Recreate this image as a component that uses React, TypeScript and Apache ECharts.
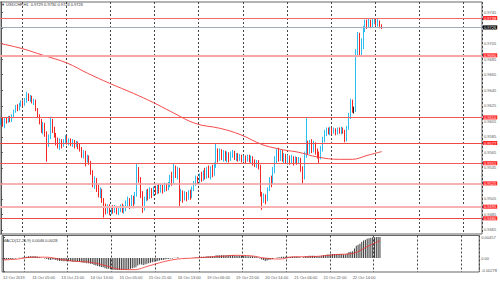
import React, { useEffect, useRef } from 'react';
import * as echarts from 'echarts';

// ---- data ----
const titleText = '▼ USDCHF,H1  0.9729 0.9730 0.9724 0.9726';
const macdText = 'MACD(12,26,9) 0.0046 0.0028';

const dateLabels = [
  '12 Oct 2019', '13 Oct 05:00', '13 Oct 21:00', '14 Oct 13:00', '15 Oct 05:00',
  '15 Oct 21:00', '16 Oct 13:00', '19 Oct 06:00', '19 Oct 22:00', '20 Oct 14:00',
  '21 Oct 06:00', '21 Oct 22:00', '22 Oct 14:00',
];

// [open, close, low, high]
const candles = [
  [0.9606,0.9609,0.9600,0.9611],[0.9609,0.9604,0.9598,0.9610],[0.9604,0.9607,0.9596,0.9609],[0.9607,0.9605,0.9602,0.9610],
  [0.9605,0.9610,0.9603,0.9612],[0.9610,0.9606,0.9604,0.9612],[0.9606,0.9612,0.9604,0.9614],[0.9612,0.9618,0.9610,0.9620],
  [0.9618,0.9624,0.9616,0.9626],[0.9624,0.9621,0.9618,0.9627],[0.9621,0.9627,0.9619,0.9629],[0.9627,0.9630,0.9624,0.9632],
  [0.9630,0.9626,0.9624,0.9632],[0.9626,0.9631,0.9625,0.9635],[0.9631,0.9639,0.9629,0.9643],[0.9639,0.9634,0.9631,0.9641],
  [0.9634,0.9636,0.9630,0.9639],[0.9636,0.9630,0.9628,0.9638],[0.9630,0.9631,0.9626,0.9634],[0.9631,0.9620,0.9618,0.9633],
  [0.9620,0.9612,0.9609,0.9622],[0.9612,0.9605,0.9601,0.9614],[0.9605,0.9596,0.9590,0.9608],[0.9596,0.9601,0.9588,0.9604],
  [0.9601,0.9590,0.9585,0.9603],[0.9590,0.9578,0.9553,0.9592],[0.9578,0.9584,0.9572,0.9588],[0.9584,0.9604,0.9582,0.9611],
  [0.9604,0.9596,0.9590,0.9608],[0.9596,0.9588,0.9584,0.9598],[0.9588,0.9580,0.9574,0.9590],[0.9580,0.9576,0.9570,0.9584],
  [0.9576,0.9580,0.9568,0.9583],[0.9580,0.9574,0.9570,0.9582],[0.9574,0.9579,0.9572,0.9582],[0.9579,0.9584,0.9576,0.9587],
  [0.9584,0.9578,0.9575,0.9586],[0.9578,0.9581,0.9574,0.9583],[0.9581,0.9576,0.9573,0.9583],[0.9576,0.9579,0.9572,0.9582],
  [0.9579,0.9575,0.9570,0.9581],[0.9575,0.9578,0.9572,0.9580],[0.9578,0.9573,0.9569,0.9579],[0.9573,0.9570,0.9566,0.9576],
  [0.9570,0.9562,0.9558,0.9572],[0.9562,0.9566,0.9557,0.9568],[0.9566,0.9556,0.9547,0.9567],[0.9556,0.9559,0.9552,0.9562],
  [0.9559,0.9552,0.9549,0.9561],[0.9552,0.9540,0.9536,0.9554],[0.9540,0.9525,0.9520,0.9542],[0.9525,0.9530,0.9518,0.9534],
  [0.9530,0.9520,0.9514,0.9532],[0.9520,0.9512,0.9507,0.9523],[0.9512,0.9516,0.9506,0.9520],[0.9516,0.9504,0.9500,0.9518],
  [0.9504,0.9496,0.9481,0.9506],[0.9496,0.9490,0.9485,0.9499],[0.9490,0.9495,0.9486,0.9498],[0.9495,0.9488,0.9484,0.9498],
  [0.9488,0.9493,0.9485,0.9496],[0.9493,0.9490,0.9486,0.9497],[0.9490,0.9494,0.9487,0.9497],[0.9494,0.9489,0.9485,0.9496],
  [0.9489,0.9492,0.9484,0.9495],[0.9492,0.9495,0.9488,0.9498],[0.9495,0.9490,0.9487,0.9499],[0.9490,0.9493,0.9486,0.9497],
  [0.9493,0.9497,0.9489,0.9503],[0.9497,0.9503,0.9494,0.9508],[0.9503,0.9498,0.9492,0.9506],[0.9498,0.9506,0.9495,0.9510],
  [0.9506,0.9500,0.9493,0.9509],[0.9500,0.9510,0.9498,0.9514],[0.9510,0.9544,0.9508,0.9551],[0.9544,0.9530,0.9526,0.9546],
  [0.9530,0.9512,0.9506,0.9533],[0.9512,0.9494,0.9487,0.9515],[0.9494,0.9505,0.9490,0.9508],[0.9505,0.9514,0.9502,0.9517],
  [0.9514,0.9508,0.9503,0.9518],[0.9508,0.9516,0.9505,0.9520],[0.9516,0.9512,0.9506,0.9519],[0.9512,0.9518,0.9509,0.9521],
  [0.9518,0.9514,0.9510,0.9522],[0.9514,0.9520,0.9511,0.9523],[0.9520,0.9516,0.9512,0.9524],[0.9516,0.9521,0.9513,0.9524],
  [0.9521,0.9517,0.9512,0.9523],[0.9517,0.9522,0.9514,0.9526],[0.9522,0.9518,0.9515,0.9525],[0.9518,0.9523,0.9516,0.9527],
  [0.9523,0.9533,0.9520,0.9536],[0.9533,0.9528,0.9522,0.9540],[0.9528,0.9545,0.9525,0.9551],[0.9545,0.9538,0.9532,0.9548],
  [0.9538,0.9542,0.9530,0.9546],[0.9542,0.9508,0.9495,0.9545],[0.9508,0.9514,0.9502,0.9518],[0.9514,0.9506,0.9500,0.9516],
  [0.9506,0.9512,0.9503,0.9515],[0.9512,0.9507,0.9502,0.9514],[0.9507,0.9513,0.9504,0.9516],[0.9513,0.9509,0.9504,0.9517],
  [0.9509,0.9518,0.9506,0.9521],[0.9518,0.9525,0.9515,0.9528],[0.9525,0.9531,0.9522,0.9535],[0.9531,0.9527,0.9524,0.9534],
  [0.9527,0.9535,0.9525,0.9538],[0.9535,0.9530,0.9527,0.9540],[0.9530,0.9538,0.9528,0.9542],[0.9538,0.9534,0.9530,0.9545],
  [0.9534,0.9540,0.9531,0.9546],[0.9540,0.9536,0.9532,0.9548],[0.9536,0.9541,0.9530,0.9547],[0.9541,0.9538,0.9533,0.9549],
  [0.9538,0.9548,0.9535,0.9552],[0.9548,0.9565,0.9545,0.9576],[0.9565,0.9558,0.9552,0.9570],[0.9558,0.9566,0.9554,0.9570],
  [0.9566,0.9560,0.9555,0.9569],[0.9560,0.9565,0.9553,0.9568],[0.9565,0.9559,0.9554,0.9567],[0.9559,0.9563,0.9552,0.9566],
  [0.9563,0.9557,0.9552,0.9565],[0.9557,0.9562,0.9554,0.9566],[0.9562,0.9565,0.9558,0.9568],[0.9565,0.9559,0.9555,0.9567],
  [0.9559,0.9562,0.9554,0.9564],[0.9562,0.9557,0.9553,0.9564],[0.9557,0.9560,0.9554,0.9563],[0.9560,0.9556,0.9552,0.9562],
  [0.9556,0.9559,0.9553,0.9561],[0.9559,0.9555,0.9551,0.9561],[0.9555,0.9560,0.9553,0.9562],[0.9560,0.9556,0.9552,0.9562],
  [0.9556,0.9558,0.9550,0.9561],[0.9558,0.9553,0.9548,0.9560],[0.9553,0.9550,0.9546,0.9556],[0.9550,0.9553,0.9545,0.9555],
  [0.9553,0.9547,0.9543,0.9555],[0.9547,0.9512,0.9508,0.9549],[0.9512,0.9506,0.9491,0.9514],[0.9506,0.9509,0.9500,0.9512],
  [0.9509,0.9504,0.9498,0.9511],[0.9504,0.9518,0.9502,0.9520],[0.9518,0.9530,0.9515,0.9533],[0.9530,0.9526,0.9520,0.9535],
  [0.9526,0.9542,0.9524,0.9546],[0.9542,0.9556,0.9538,0.9560],[0.9556,0.9562,0.9550,0.9570],[0.9562,0.9558,0.9553,0.9571],
  [0.9558,0.9566,0.9554,0.9569],[0.9566,0.9557,0.9553,0.9568],[0.9557,0.9561,0.9551,0.9564],[0.9561,0.9555,0.9550,0.9563],
  [0.9555,0.9559,0.9549,0.9562],[0.9559,0.9554,0.9549,0.9561],[0.9554,0.9558,0.9551,0.9562],[0.9558,0.9553,0.9548,0.9560],
  [0.9553,0.9557,0.9550,0.9560],[0.9557,0.9552,0.9549,0.9559],[0.9552,0.9556,0.9550,0.9559],[0.9556,0.9545,0.9540,0.9558],
  [0.9545,0.9533,0.9525,0.9547],[0.9533,0.9562,0.9530,0.9566],[0.9562,0.9575,0.9558,0.9609],[0.9575,0.9566,0.9562,0.9580],
  [0.9566,0.9578,0.9563,0.9581],[0.9578,0.9570,0.9564,0.9582],[0.9570,0.9576,0.9565,0.9580],[0.9576,0.9566,0.9562,0.9578],
  [0.9566,0.9562,0.9557,0.9570],[0.9562,0.9559,0.9551,0.9566],[0.9559,0.9570,0.9556,0.9573],[0.9570,0.9582,0.9566,0.9585],
  [0.9582,0.9590,0.9578,0.9594],[0.9590,0.9594,0.9586,0.9597],[0.9594,0.9591,0.9588,0.9597],[0.9591,0.9595,0.9587,0.9598],
  [0.9595,0.9591,0.9588,0.9597],[0.9591,0.9594,0.9589,0.9597],[0.9594,0.9590,0.9587,0.9596],[0.9590,0.9594,0.9588,0.9597],
  [0.9594,0.9591,0.9589,0.9597],[0.9591,0.9595,0.9588,0.9598],[0.9595,0.9592,0.9589,0.9597],[0.9592,0.9581,0.9578,0.9594],
  [0.9581,0.9596,0.9579,0.9599],[0.9596,0.9612,0.9594,0.9616],[0.9612,0.9630,0.9608,0.9634],[0.9630,0.9620,0.9616,0.9633],
  [0.9620,0.9620,0.9615,0.9624],[0.9620,0.9694,0.9617,0.9698],[0.9694,0.9716,0.9688,0.9720],[0.9716,0.9694,0.9690,0.9719],
  [0.9694,0.9700,0.9688,0.9712],[0.9700,0.9724,0.9698,0.9728],[0.9724,0.9733,0.9720,0.9736],[0.9733,0.9728,0.9724,0.9736],
  [0.9728,0.9734,0.9726,0.9737],[0.9734,0.9729,0.9725,0.9736],[0.9729,0.9734,0.9726,0.9737],[0.9734,0.9736,0.9730,0.9738],
  [0.9736,0.9731,0.9728,0.9737],[0.9731,0.9733,0.9727,0.9737],[0.9733,0.9729,0.9725,0.9735],[0.9729,0.9726,0.9724,0.9730],
];

// moving average, read at sample bars: [bar index, price]
const maPoints = [
  [0, 0.9705], [11, 0.9699], [23, 0.9690], [36, 0.9680], [47, 0.9667], [59, 0.9654],
  [72, 0.9641], [83, 0.9629], [92, 0.9618], [106, 0.9602], [119, 0.9596], [130, 0.9588],
  [142, 0.9575], [150, 0.9570], [154, 0.9568], [162, 0.9565], [172, 0.9559], [184, 0.9556],
  [191, 0.9556], [199, 0.9561], [207, 0.9566],
];

const macdValues = [
  -0.0003,-0.0003,-0.0003,-0.0002,-0.0002,-0.0002,-0.0001,-0.0001,0.0000,0.0001,
  0.0001,0.0002,0.0002,0.0003,0.0004,0.0004,0.0004,0.0004,0.0004,0.0003,
  0.0002,0.0001,0.0000,-0.0001,-0.0002,-0.0003,-0.0004,-0.0003,-0.0003,-0.0004,
  -0.0005,-0.0006,-0.0006,-0.0007,-0.0007,-0.0007,-0.0007,-0.0007,-0.0008,-0.0008,
  -0.0008,-0.0008,-0.0008,-0.0009,-0.0010,-0.0010,-0.0011,-0.0011,-0.0012,-0.0013,
  -0.0015,-0.0016,-0.0017,-0.0018,-0.0019,-0.0020,-0.0022,-0.0023,-0.0023,-0.0024,
  -0.0025,-0.0025,-0.0026,-0.0026,-0.0026,-0.0026,-0.0026,-0.0025,-0.0025,-0.0024,
  -0.0023,-0.0022,-0.0021,-0.0020,-0.0016,-0.0014,-0.0014,-0.0015,-0.0014,-0.0012,
  -0.0011,-0.0010,-0.0009,-0.0008,-0.0007,-0.0006,-0.0005,-0.0004,-0.0004,-0.0003,
  -0.0002,-0.0002,-0.0001,-0.0001,0.0001,0.0001,0.0002,0.0000,0.0000,0.0000,
  0.0000,0.0000,0.0000,0.0000,0.0001,0.0001,0.0002,0.0002,0.0003,0.0003,
  0.0003,0.0003,0.0004,0.0004,0.0004,0.0004,0.0004,0.0006,0.0006,0.0006,
  0.0006,0.0006,0.0006,0.0006,0.0006,0.0006,0.0006,0.0006,0.0005,0.0005,
  0.0005,0.0005,0.0005,0.0005,0.0004,0.0004,0.0004,0.0004,0.0003,0.0003,
  0.0002,-0.0001,-0.0003,-0.0004,-0.0006,-0.0005,-0.0004,-0.0003,-0.0002,0.0000,
  0.0001,0.0002,0.0002,0.0003,0.0003,0.0003,0.0003,0.0003,0.0003,0.0003,
  0.0003,0.0003,0.0003,0.0002,0.0001,0.0002,0.0004,0.0004,0.0005,0.0005,
  0.0005,0.0005,0.0004,0.0004,0.0004,0.0005,0.0006,0.0007,0.0008,0.0008,
  0.0009,0.0009,0.0009,0.0009,0.0009,0.0009,0.0009,0.0008,0.0008,0.0010,
  0.0013,0.0014,0.0015,0.0021,0.0027,0.0029,0.0031,0.0035,0.0038,0.0040,
  0.0042,0.0043,0.0044,0.0045,0.0045,0.0046,0.0046,0.0046,
];

// MACD signal line, read at sample bars: [bar index, value]
const signalPoints = [
  [0, -0.0004], [8, -0.0002], [16, 0.0002], [24, 0.0002], [32, -0.0003], [40, -0.0007],
  [48, -0.0009], [56, -0.0016], [64, -0.0024], [72, -0.0025], [80, -0.0017], [88, -0.0008],
  [96, -0.0002], [104, 0.0000], [112, 0.0002], [120, 0.0004], [128, 0.0006], [136, 0.0005],
  [144, 0.0000], [152, -0.0002], [160, 0.0003], [168, 0.0003], [176, 0.0005], [184, 0.0008],
  [192, 0.0010], [200, 0.0025], [207, 0.0038],
];

const priceTicks = [0.9465, 0.9485, 0.9505, 0.9525, 0.9545, 0.9565, 0.9585, 0.9605,
  0.9625, 0.9645, 0.9665, 0.9685, 0.9705, 0.9725, 0.9745];
const macdTicks = [0.00457, 0, -0.00278];
const levelValues = [0.9738, 0.9690, 0.9610, 0.9577, 0.9551, 0.9525, 0.9495, 0.9480];
const currentPrice = 0.9726;

// ---- layout / style (not data) ----
const SLOTS = 262;
const LABEL_STEP = 16;
const GRID_STEP = 24;
const levelStyles = [
  { color: '#f26a6a', width: 1.2 },
  { color: '#f9a6a6', width: 1.8 },
  { color: '#f25a5a', width: 1.2 },
  { color: '#ef4848', width: 1 },
  { color: '#f25a5a', width: 1.2 },
  { color: '#f59a9a', width: 1.5 },
  { color: '#f9b2b2', width: 1.8 },
  { color: '#ef4848', width: 1 },
];

export default function App() {
  const ref = useRef<HTMLDivElement>(null);
  useEffect(() => {
    document.body.style.margin = '0';
    const chart = echarts.init(ref.current!, null, { renderer: 'svg' });
    const font = 'Liberation Sans, Arial, sans-serif';
    const categories = Array.from({ length: SLOTS }, (_, i) => String(i));
    const isLabel = (i: number) => i % LABEL_STEP === 0 && i / LABEL_STEP < dateLabels.length;
    const isGridLine = (i: number) => i % GRID_STEP === GRID_STEP / 2;
    const dashed = { show: true, interval: isGridLine, lineStyle: { color: '#444', width: 1, type: [2, 2] } };
    const boxLabel = (v: number, bg: string) => ({
      show: true, position: 'end', distance: 1, formatter: v.toFixed(4),
      backgroundColor: bg, color: '#fff', fontSize: 4, lineHeight: 4, padding: [0, 1], fontFamily: font,
    });
    const levelLines: any[] = levelValues.map((v, k) => ({
      yAxis: v,
      lineStyle: { color: levelStyles[k].color, width: levelStyles[k].width, type: 'solid' },
      label: boxLabel(v, '#ff1c1c'),
    }));
    levelLines.push({
      yAxis: currentPrice,
      lineStyle: { color: '#a2acba', width: 1, type: 'solid' },
      label: boxLabel(currentPrice, '#000'),
    });

    const option: any = {
      animation: false,
      backgroundColor: '#fff',
      textStyle: { fontFamily: font },
      title: [
        { text: titleText, left: 1, top: 2, padding: 0, textStyle: { fontSize: 4, fontWeight: 'normal', color: '#333', fontFamily: font } },
        { text: macdText, left: 3, top: 238, padding: 0, textStyle: { fontSize: 4, fontWeight: 'normal', color: '#333', fontFamily: font } },
      ],
      grid: [
        { left: 0, right: 18, top: 2, height: 232, show: true, borderColor: '#666', borderWidth: 1, backgroundColor: 'transparent' },
        { left: 0, right: 18, top: 235.5, height: 36.5, show: true, borderColor: '#666', borderWidth: 1, backgroundColor: 'transparent' },
      ],
      xAxis: [
        { type: 'category', gridIndex: 0, data: categories, boundaryGap: true,
          axisLine: { show: false }, axisTick: { show: false }, axisLabel: { show: false }, splitLine: dashed },
        { type: 'category', gridIndex: 1, data: categories, boundaryGap: true,
          axisLine: { show: false }, axisTick: { show: false }, splitLine: dashed,
          axisLabel: { show: true, interval: (i: number) => isLabel(i), formatter: (_v: string, i: number) => (isLabel(i) ? dateLabels[i / LABEL_STEP] : ''),
            fontSize: 4, lineHeight: 4, color: '#555', align: 'left', margin: 3, fontFamily: font } },
        { type: 'value', gridIndex: 0, min: -0.5, max: SLOTS - 0.5, show: false },
        { type: 'value', gridIndex: 1, min: -0.5, max: SLOTS - 0.5, show: false },
      ],
      yAxis: [
        { type: 'value', gridIndex: 0, position: 'right', min: 0.94598, max: 0.97587, scale: true,
          axisLine: { show: true, lineStyle: { color: '#555' } },
          axisTick: { show: true, length: 2, customValues: priceTicks, lineStyle: { color: '#555' } },
          axisLabel: { show: true, customValues: priceTicks, formatter: (v: number) => v.toFixed(4), fontSize: 4, lineHeight: 4, color: '#555', margin: 2, fontFamily: font },
          splitLine: { show: false } },
        { type: 'value', gridIndex: 1, position: 'right', min: -0.00301, max: 0.0049,
          axisLine: { show: true, lineStyle: { color: '#555' } },
          axisTick: { show: true, length: 2, customValues: macdTicks, lineStyle: { color: '#555' } },
          axisLabel: { show: true, customValues: macdTicks, formatter: (v: number) => (v === 0 ? '0.00' : v.toFixed(5)), fontSize: 4, lineHeight: 4, color: '#555', margin: 2, fontFamily: font },
          splitLine: { show: false } },
      ],
      series: [
        {
          type: 'candlestick', xAxisIndex: 0, yAxisIndex: 0, data: candles, barWidth: 1,
          itemStyle: { color: '#2bbcf0', color0: '#f22424', borderColor: '#2bbcf0', borderColor0: '#f22424', borderColorDoji: '#222', borderWidth: 1 },
          emphasis: { disabled: true },
          markLine: { silent: true, symbol: 'none', animation: false, precision: 4, data: levelLines },
        },
        {
          type: 'line', xAxisIndex: 2, yAxisIndex: 0, data: maPoints, smooth: 0.4, symbol: 'none',
          lineStyle: { color: '#f44a4a', width: 1 }, emphasis: { disabled: true }, z: 3,
        },
        {
          type: 'bar', xAxisIndex: 1, yAxisIndex: 1, data: macdValues, barWidth: 1,
          itemStyle: { color: '#3a3a3a' }, emphasis: { disabled: true },
        },
        {
          type: 'line', xAxisIndex: 3, yAxisIndex: 1, data: signalPoints, smooth: 0.4, symbol: 'none',
          lineStyle: { color: '#f23030', width: 0.8 }, emphasis: { disabled: true }, z: 3,
        },
      ],
    };
    chart.setOption(option);
    return () => chart.dispose();
  }, []);
  return <div ref={ref} style={{ position: 'fixed', left: 0, top: 0, width: 500, height: 281, background: '#fff' }} />;
}
